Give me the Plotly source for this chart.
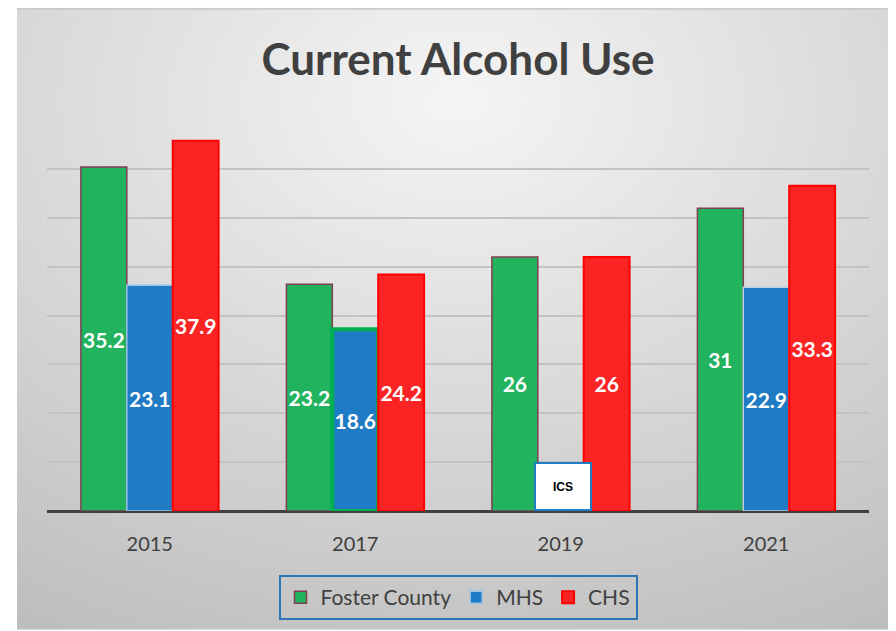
import base64
import plotly.graph_objects as go

years = ["2015", "2017", "2019", "2021"]
foster = [35.2, 23.2, 26, 31]
mhs = [23.1, 18.6, None, 22.9]
chs = [37.9, 24.2, 26, 33.3]
suppressed_year = "2019"
suppressed_label = "ICS"

# page body has an 8px margin; figure coordinates = screenshot - 8
W, H = 888, 623
L, R, T, B = 39, 27, 112, 119
pw, ph = W - L - R, H - T - B

svg = ("<svg xmlns='http://www.w3.org/2000/svg' width='879' height='624' preserveAspectRatio='none'>"
       "<defs><radialGradient id='g' cx='0.5' cy='0.15' r='1.0'>"
       "<stop offset='0' stop-color='#f5f5f5'/><stop offset='1' stop-color='#bcbcbc'/>"
       "</radialGradient></defs><rect width='879' height='624' fill='url(#g)'/>"
       "<line x1='0' y1='0.5' x2='879' y2='0.5' stroke='#bfbfbf' stroke-width='1.5'/></svg>")
src = "data:image/svg+xml;base64," + base64.b64encode(svg.encode()).decode()

font = "Lato, 'Open Sans', sans-serif"
lbl = dict(family=font, size=21, color="white", weight="bold")

fig = go.Figure()
fig.add_trace(go.Bar(
    name="Foster County", x=years, y=foster, text=foster,
    marker=dict(color="#22b35f", line=dict(color="#7f3f50", width=1.5)),
))
fig.add_trace(go.Bar(
    name="MHS", x=years, y=mhs, text=mhs,
    marker=dict(color="#1f7bc4",
                line=dict(color=["#9dc3e6", "#00b050", "#9dc3e6", "#bcd0e4"],
                          width=[1.5, 4, 1.5, 1.5])),
))
fig.add_trace(go.Bar(
    name="CHS", x=years, y=chs, text=chs,
    marker=dict(color="#fa2424", line=dict(color="#ff0000", width=2)),
))
fig.update_traces(textposition="inside", insidetextanchor="middle", textangle=0,
                  constraintext="none", insidetextfont=lbl, texttemplate="%{text}")

fig.add_annotation(x=years.index(suppressed_year), y=0, yanchor="bottom", text=suppressed_label,
                   showarrow=False, bgcolor="white", bordercolor="#1f7bc4", borderwidth=2,
                   width=54, height=45, xshift=2, borderpad=0,
                   font=dict(family="Liberation Sans Narrow, Liberation Sans", size=12,
                             color="black", weight="bold"))

fig.update_layout(
    width=W, height=H, margin=dict(l=L, r=R, t=T, b=B),
    paper_bgcolor="white", plot_bgcolor="rgba(0,0,0,0)",
    barmode="group", bargap=0.33, bargroupgap=0,
    title=dict(text="<b>Current Alcohol Use</b>", x=0.5, xref="paper", xanchor="center",
               y=1 - 52 / H, yanchor="middle",
               font=dict(family=font, size=44, color="#404040")),
    xaxis=dict(type="category", range=[-0.5, 3.5], showgrid=False, showline=False,
               ticks="outside", ticklen=15, tickcolor="rgba(0,0,0,0)",
               tickfont=dict(family=font, size=20, color="#404040")),
    yaxis=dict(range=[0, 40.02], dtick=5, showticklabels=False, gridcolor="#c3c3c3",
               gridwidth=2, zeroline=True, zerolinecolor="#404040", zerolinewidth=3,
               showline=False),
    legend=dict(orientation="h", x=0.5, xanchor="center", y=(504 - 567) / ph, yanchor="top",
                bordercolor="#2e75b6", borderwidth=2, bgcolor="rgba(0,0,0,0)",
                font=dict(family=font, size=21, color="#404040")),
    images=[dict(source=src, xref="paper", yref="paper", x=(9 - L) / pw, y=504 / ph,
                 sizex=879 / pw, sizey=623 / ph, xanchor="left", yanchor="top",
                 sizing="stretch", layer="below")],
    showlegend=True,
)
fig.write_html("out.html")
